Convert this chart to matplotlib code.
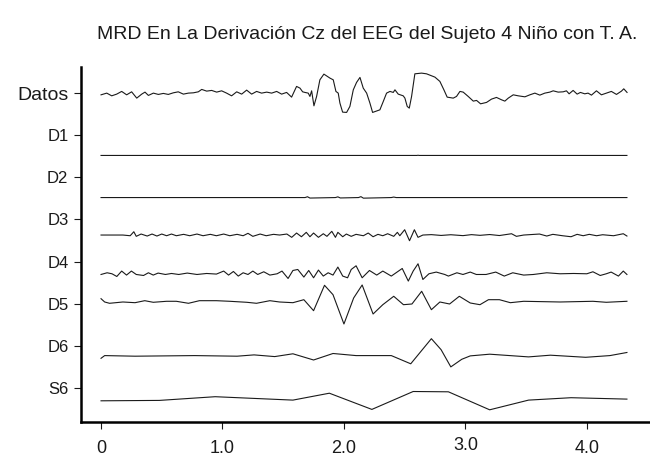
import matplotlib
matplotlib.use("Agg")
import matplotlib.pyplot as plt
import matplotlib.transforms as mtransforms
import numpy as np

plt.rcParams['font.family'] = ['Liberation Sans', 'DejaVu Sans']

title = "MRD En La Derivación Cz del EEG del Sujeto 4 Niño con T. A."
row_labels = ["Datos", "D1", "D2", "D3", "D4", "D5", "D6", "S6"]
x_ticks = [0, 1, 2, 3, 4]
x_tick_labels = ["0", "1.0", "2.0", "3.0", "4.0"]

# ---- signals (time in s, amplitude in arbitrary units) ----
datos_t = [0.00, 0.047, 0.088, 0.129, 0.170, 0.211, 0.252, 0.294, 0.335, 0.362, 0.390, 0.431, 0.472,
           0.513, 0.554, 0.595, 0.636, 0.678, 0.719, 0.760, 0.801, 0.829, 0.870, 0.911, 0.952, 0.993,
           1.034, 1.075, 1.117, 1.158, 1.199, 1.240, 1.281, 1.322, 1.364, 1.405, 1.446, 1.487, 1.528,
           1.569, 1.610, 1.638, 1.660, 1.679, 1.706, 1.720, 1.734, 1.753, 1.775, 1.802, 1.835, 1.885,
           1.912, 1.934, 1.953, 1.967, 1.989, 2.022, 2.049, 2.077, 2.104, 2.132, 2.159, 2.187, 2.214,
           2.236, 2.296, 2.324, 2.351, 2.379, 2.406, 2.420, 2.447, 2.488, 2.502, 2.521, 2.538, 2.557,
           2.584, 2.639, 2.680, 2.749, 2.790, 2.823, 2.850, 2.900, 2.927, 2.955, 2.982, 3.023, 3.065,
           3.092, 3.125, 3.174, 3.215, 3.256, 3.298, 3.325, 3.353, 3.394, 3.435, 3.490, 3.531, 3.572,
           3.613, 3.654, 3.695, 3.723, 3.764, 3.805, 3.832, 3.854, 3.887, 3.920, 3.947, 3.983, 4.010,
           4.038, 4.079, 4.120, 4.161, 4.202, 4.244, 4.285, 4.304, 4.331]
datos_v = [-1.7, 0.0, -2.7, -1.0, 1.7, -1.7, 1.3, -5.0, -1.0, 1.0, -2.3, 0.0, -1.3,
           -0.3, -1.3, 0.3, 1.3, -1.0, 0.0, 0.3, 1.3, 3.7, 2.0, 2.7, 1.0, 2.3,
           0.0, -2.7, 1.3, -1.0, 3.0, -1.0, 1.7, 0.0, 1.0, 0.0, 1.7, -1.0, 0.7,
           -4.0, 6.7, 5.0, 1.3, 0.7, 0.0, -3.3, 2.3, -12.7, -3.3, 13.3, 19.0, 15.0,
           13.3, 1.7, 0.0, -10.0, -19.0, -19.3, -13.3, 3.3, 10.7, 15.7, 5.0, 0.0, -10.0,
           -19.3, -16.7, -8.3, 0.0, 1.7, 0.7, 3.3, -1.0, -2.7, -5.0, -13.3, -15.0, -3.3,
           19.3, 20.0, 19.3, 16.0, 11.7, 3.3, -4.0, -5.0, -3.3, 1.7, 1.0, -3.3, -8.0,
           -7.3, -10.7, -9.3, -6.0, -4.3, -6.7, -8.0, -5.0, -1.7, -2.7, -3.7, -1.7, 0.0,
           -2.0, 0.0, 1.0, 2.3, 1.0, 1.3, 2.3, -0.7, 2.7, -1.0, 0.7, -0.7, 0.0,
           -2.0, 2.3, -1.7, 0.0, 1.7, -1.3, 2.0, 4.3, 0.7]

d1_t = [0.00, 2.60, 2.61, 2.62, 4.33]
d1_v = [0.0, 0.0, 0.2, 0.0, 0.0]

d2_t = [0.00, 1.68, 1.70, 1.72, 1.93, 1.95, 1.97, 2.12, 2.14, 2.16, 2.39, 2.41, 2.43, 4.33]
d2_v = [0.0, 0.0, 0.8, -0.5, 0.0, 0.7, -0.4, 0.0, 0.9, -0.6, 0.0, 0.5, 0.0, 0.0]

d3_t = [0.00, 0.18, 0.24, 0.27, 0.29, 0.33, 0.38, 0.42, 0.46, 0.50, 0.54, 0.58, 0.62, 0.68, 0.73,
        0.79, 0.84, 0.90, 0.95, 1.01, 1.06, 1.12, 1.17, 1.21, 1.25, 1.31, 1.36, 1.42, 1.47, 1.53,
        1.57, 1.61, 1.65, 1.69, 1.72, 1.75, 1.79, 1.83, 1.86, 1.90, 1.93, 1.95, 1.99, 2.02, 2.06,
        2.10, 2.16, 2.20, 2.24, 2.28, 2.32, 2.36, 2.41, 2.44, 2.46, 2.50, 2.54, 2.58, 2.61, 2.65,
        2.72, 2.80, 2.88, 2.98, 3.05, 3.12, 3.20, 3.28,
        3.38, 3.42, 3.48, 3.61, 3.67, 3.72, 3.80, 3.87, 3.92, 3.97, 4.02, 4.08, 4.13, 4.22,
        4.30, 4.33]
d3_v = [0.0, 0.0, -0.7, 3.3, -1.3, 1.0, -1.0, 1.0, -1.0, 1.0, -0.7, 1.0, -0.7, 0.7, -0.7,
        1.0, -0.7, 0.7, -0.7, 1.0, -0.7, 0.7, -0.7, 1.7, -1.3, 1.0, -0.7, 0.7, 0.0, 1.0,
        -2.3, 2.0, -1.7, 2.7, -1.7, 2.0, -2.3, 1.3, -1.3, 3.7, -2.3, 2.7, -1.7, 1.0, -1.3,
        0.7, -0.7, 2.0, -1.7, 0.7, -0.7, 1.3, -1.3, 2.7, -0.7, 5.3, -5.7, 5.3, -2.3, 0.0,
        0.4, -0.4, 0.3, -0.6, 0.4, -0.3, 0.5, -0.5,
        1.3, -1.3, 0.0, 1.0, -1.0, 0.7, -0.7, -1.7, 0.7, -0.7, 0.7, -0.7, 0.3, -0.7,
        1.3, -1.0]

d4_t = [0.00, 0.05, 0.09, 0.13, 0.17, 0.21, 0.25, 0.29, 0.35, 0.39, 0.43, 0.47, 0.53, 0.58, 0.64,
        0.71, 0.79, 0.87, 0.95, 1.01, 1.05, 1.09, 1.13, 1.17, 1.21, 1.25, 1.29, 1.34, 1.39, 1.45,
        1.49, 1.54, 1.58, 1.62, 1.67, 1.71, 1.75, 1.79, 1.83, 1.87, 1.91, 1.95, 1.99, 2.03, 2.06,
        2.10, 2.15, 2.21, 2.27, 2.32, 2.39, 2.48, 2.53, 2.57, 2.61, 2.65, 2.70, 2.76, 2.83, 2.86,
        2.93, 2.98, 3.04, 3.09, 3.17, 3.25, 3.32, 3.39, 3.48, 3.56, 3.67, 3.78, 3.89, 4.00, 4.05,
        4.11, 4.16, 4.20, 4.26, 4.30, 4.33]
d4_v = [-0.7, 1.0, 0.0, -2.7, 2.7, -1.3, 2.7, -0.7, -1.7, 1.0, -1.3, 0.7, -0.7, 0.3, -0.7,
        0.7, -0.7, 0.3, -0.3, 2.7, -1.3, 2.3, -2.3, 1.0, -0.7, 2.7, -0.7, 2.0, -1.3, 0.0,
        2.7, -4.7, 3.3, 4.3, -3.3, 3.3, -4.0, 3.7, -2.3, 1.0, -1.3, 6.7, -2.3, -4.0, 4.3,
        8.0, -4.0, 3.3, -1.3, 2.7, -2.3, 5.3, -7.3, 2.7, 10.0, -5.7, 0.0, 1.7, -0.7, -2.3,
        1.0, -0.7, 1.7, -0.7, -0.7, 1.7, -2.3, 1.0, -1.3, -0.7, 1.0, 0.0, 0.3, 0.0, 2.0,
        -1.7, 0.0, 1.7, -2.3, 2.7, -0.7]

d5_t = [0.00, 0.03, 0.07, 0.18, 0.28, 0.36, 0.43, 0.54, 0.62, 0.72, 0.81, 0.95, 1.06, 1.20, 1.28,
        1.39, 1.47, 1.58, 1.67, 1.75, 1.84, 1.91, 2.00, 2.08, 2.15, 2.24, 2.32, 2.41, 2.49, 2.56,
        2.64, 2.72, 2.79, 2.87, 2.95, 3.04, 3.12, 3.19, 3.28, 3.37, 3.48, 3.78, 4.05, 4.16, 4.33]
d5_v = [3.3, 0.0, -1.3, 0.0, -0.7, 1.3, -0.3, 0.7, 0.7, -1.3, 1.3, 1.3, 0.7, -0.3, -1.3,
        1.3, 0.0, -0.7, 2.3, -8.7, 16.7, 7.3, -22.0, 4.0, 17.0, -12.0, -2.7, 5.7, -2.7, -2.0,
        10.7, -7.7, 0.0, -2.0, 5.7, -1.0, -2.7, 2.3, 2.3, -0.7, 0.7, 0.0, 0.7, -0.3, 0.7]

d6_t = [0.00, 0.03, 0.28, 0.77, 1.12, 1.26, 1.43, 1.58, 1.75, 1.91, 2.10, 2.39, 2.55, 2.72, 2.80,
        2.88, 2.97, 3.04, 3.20, 3.52, 3.70, 3.99, 4.19, 4.33]
d6_v = [-2.4, 0.3, -0.3, 0.3, -0.3, 1.0, -0.7, 2.1, -4.1, 2.4, 0.3, 0.3, -7.9, 17.2, 6.2,
        -11.0, -3.4, 0.0, 1.7, -1.0, 0.7, -1.4, 0.3, 3.4]

s6_t = [0.00, 0.48, 0.94, 1.58, 1.88, 2.23, 2.57, 2.86, 3.20, 3.52, 3.87, 4.33]
s6_v = [-0.7, -0.3, 3.4, 0.0, 6.9, -9.3, 8.6, 8.3, -9.7, 0.0, 2.4, 1.0]

signals = [(datos_t, datos_v), (d1_t, d1_v), (d2_t, d2_v), (d3_t, d3_v),
           (d4_t, d4_v), (d5_t, d5_v), (d6_t, d6_v), (s6_t, s6_v)]

# ---- layout ----
row_pos = [7, 6, 5, 4, 3, 2, 1, 0]
baseline_shift = [0.0, -0.48, -0.48, -0.37, -0.29, 0.04, -0.24, -0.29]
amp_scale = 1 / 42.1

fig = plt.figure(figsize=(6.5, 4.59), dpi=100)
ax = fig.add_axes([0.1246, 0.0806, 0.8754, 0.7734])

for (t, v), p, s in zip(signals, row_pos, baseline_shift):
    ax.plot(t, p + s + np.asarray(v) * amp_scale, color='#1a1a1a', lw=0.8)

ax.set_xlim(-0.165, 4.52)
ax.set_ylim(-0.81, 7.62)
ax.set_yticks(row_pos)
ax.set_yticklabels(row_labels)
ax.set_xticks(x_ticks)
ax.set_xticklabels(x_tick_labels)

for sp in ['top', 'right']:
    ax.spines[sp].set_visible(False)
for sp in ['left', 'bottom']:
    ax.spines[sp].set_linewidth(1.8)

ax.tick_params(axis='y', length=5, width=0.8, pad=4, labelsize=12, colors='#1a1a1a')
ax.tick_params(axis='x', length=5, width=0.8, pad=8, labelsize=13, colors='#1a1a1a')
ax.get_yticklabels()[0].set_fontsize(14)
lab3 = ax.get_xticklabels()[3]
lab3.set_transform(lab3.get_transform() + mtransforms.ScaledTranslation(0, 3 / 100, fig.dpi_scale_trans))

fig.text(0.565, 0.924, title, ha='center', va='center', fontsize=14, color='#1a1a1a')

fig.savefig("out.png", dpi=100)
